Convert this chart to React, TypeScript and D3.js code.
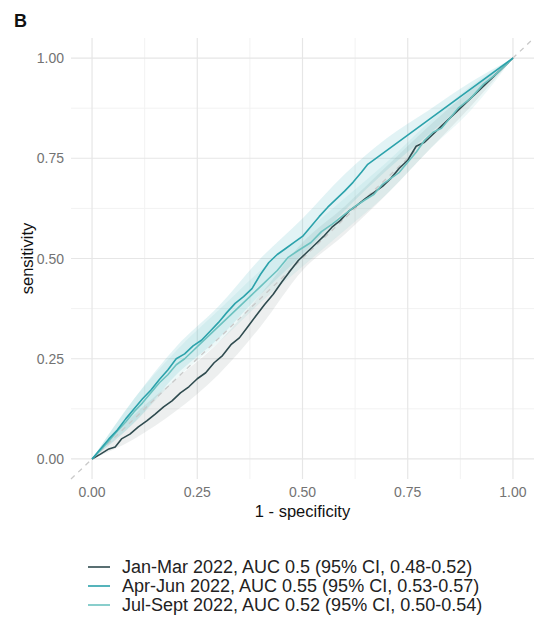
import React from 'react';
import * as d3 from 'd3';

// ROC curves: [1 - specificity, sensitivity]
const janMar: [number, number][] = [
  [0,0],[0.02,0.012],[0.04,0.025],[0.055,0.03],[0.07,0.05],[0.09,0.062],[0.11,0.08],[0.13,0.095],
  [0.15,0.112],[0.17,0.13],[0.19,0.145],[0.21,0.165],[0.23,0.18],[0.25,0.2],[0.27,0.215],[0.29,0.24],
  [0.31,0.258],[0.33,0.285],[0.35,0.302],[0.37,0.33],[0.39,0.358],[0.41,0.385],[0.43,0.41],[0.45,0.44],
  [0.47,0.468],[0.49,0.495],[0.51,0.515],[0.53,0.535],[0.55,0.555],[0.57,0.578],[0.59,0.595],[0.61,0.618],
  [0.63,0.633],[0.65,0.65],[0.67,0.665],[0.69,0.68],[0.71,0.70],[0.73,0.725],[0.75,0.745],[0.77,0.78],
  [0.79,0.79],[0.81,0.81],[0.83,0.83],[0.85,0.85],[0.87,0.87],[0.89,0.89],[0.92,0.92],[0.95,0.95],[1,1],
];
const aprJun: [number, number][] = [
  [0,0],[0.02,0.025],[0.04,0.05],[0.06,0.072],[0.08,0.1],[0.1,0.125],[0.12,0.15],[0.14,0.172],
  [0.16,0.198],[0.18,0.222],[0.2,0.25],[0.22,0.262],[0.24,0.282],[0.26,0.296],[0.28,0.318],[0.3,0.34],
  [0.32,0.365],[0.34,0.388],[0.36,0.405],[0.38,0.425],[0.40,0.46],[0.42,0.49],[0.44,0.51],[0.46,0.525],
  [0.48,0.54],[0.5,0.555],[0.52,0.58],[0.54,0.605],[0.56,0.628],[0.58,0.648],[0.6,0.668],[0.62,0.69],
  [0.64,0.715],[0.655,0.735],[1,1],
];
const julSep: [number, number][] = [
  [0,0],[0.02,0.022],[0.04,0.045],[0.06,0.07],[0.08,0.092],[0.1,0.118],[0.12,0.14],[0.14,0.165],
  [0.16,0.19],[0.18,0.21],[0.2,0.235],[0.22,0.25],[0.24,0.27],[0.26,0.29],[0.28,0.31],[0.3,0.33],
  [0.32,0.35],[0.34,0.37],[0.36,0.39],[0.38,0.41],[0.4,0.43],[0.42,0.45],[0.44,0.47],[0.466,0.503],
  [0.49,0.52],[0.52,0.54],[0.545,0.567],[0.57,0.585],[0.6,0.61],[0.625,0.63],[0.648,0.646],[0.67,0.66],
  [0.69,0.685],[0.71,0.70],[0.73,0.715],[0.75,0.74],[0.77,0.765],[0.79,0.795],[0.81,0.815],[0.83,0.825],
  [0.85,0.85],[0.87,0.875],[0.9,0.9],[0.93,0.935],[0.96,0.96],[1,1],
];

// confidence bands (sensitivity CI) at these x positions
const bandX = [0, 0.1, 0.2, 0.3, 0.4, 0.5, 0.6, 0.7, 0.8, 0.9, 1];
const janLo = [0, 0.05, 0.12, 0.21, 0.33, 0.47, 0.56, 0.66, 0.77, 0.88, 1];
const janHi = [0, 0.11, 0.20, 0.29, 0.41, 0.54, 0.63, 0.73, 0.83, 0.92, 1];
const aprLo = [0, 0.09, 0.21, 0.30, 0.41, 0.51, 0.62, 0.72, 0.81, 0.90, 1];
const aprHi = [0, 0.15, 0.28, 0.38, 0.50, 0.60, 0.71, 0.80, 0.87, 0.94, 1];
const julLo = [0, 0.09, 0.20, 0.29, 0.39, 0.48, 0.57, 0.66, 0.77, 0.87, 1];
const julHi = [0, 0.15, 0.27, 0.37, 0.47, 0.56, 0.65, 0.74, 0.84, 0.93, 1];

const seriesLabels = [
  'Jan-Mar 2022, AUC 0.5 (95% CI, 0.48-0.52)',
  'Apr-Jun 2022, AUC 0.55 (95% CI, 0.53-0.57)',
  'Jul-Sept 2022, AUC 0.52 (95% CI, 0.50-0.54)',
];
const tickVals = [0, 0.25, 0.5, 0.75, 1];
const minorVals = [0.125, 0.375, 0.625, 0.875];

const COL = { jan: '#2f4b4f', apr: '#2ba2ab', jul: '#6cc2c0' };
const FILL = { jan: 'rgba(110,120,120,0.12)', apr: 'rgba(60,175,185,0.15)', jul: 'rgba(110,195,195,0.12)' };
const font = "'Liberation Sans', Arial, sans-serif";

export default function App() {
  const W = 536, H = 634;
  const x = d3.scaleLinear().domain([-0.05, 1.05]).range([71, 534]);
  const y = d3.scaleLinear().domain([-0.05, 1.05]).range([479, 38]);

  const line = d3.line<[number, number]>().x(d => x(d[0])).y(d => y(d[1]));
  const band = (lo: number[], hi: number[]) =>
    d3.area<number>().x(d => x(d)).y0((d, i) => y(lo[i])).y1((d, i) => y(hi[i])).curve(d3.curveMonotoneX)(bandX) || '';

  const series = [
    { key: 'jan', data: janMar, lo: janLo, hi: janHi },
    { key: 'apr', data: aprJun, lo: aprLo, hi: aprHi },
    { key: 'jul', data: julSep, lo: julLo, hi: julHi },
  ] as const;

  return (
    <svg width={W} height={H} style={{ position: 'absolute', left: 0, top: 0, background: '#fff' }} fontFamily={font}>
      <rect width={W} height={H} fill="#fff" />
      <text x={14} y={27} fontSize={18} fontWeight="bold" fill="#111">B</text>

      {/* grid */}
      {minorVals.map(v => (
        <g key={'m' + v}>
          <line x1={x(v)} x2={x(v)} y1={38} y2={479} stroke="#f2f2f2" strokeWidth={1} />
          <line x1={71} x2={534} y1={y(v)} y2={y(v)} stroke="#f2f2f2" strokeWidth={1} />
        </g>
      ))}
      {tickVals.map(v => (
        <g key={'M' + v}>
          <line x1={x(v)} x2={x(v)} y1={38} y2={479} stroke="#e6e6e6" strokeWidth={1.2} />
          <line x1={71} x2={534} y1={y(v)} y2={y(v)} stroke="#e6e6e6" strokeWidth={1.2} />
        </g>
      ))}

      {/* CI bands */}
      {series.map(s => (
        <path key={'b' + s.key} d={band(s.lo, s.hi)} fill={FILL[s.key]} />
      ))}

      {/* reference diagonal */}
      <line x1={x(-0.05)} y1={y(-0.05)} x2={x(1.05)} y2={y(1.05)} stroke="#c9c9c9" strokeWidth={1.3} strokeDasharray="5,5" />

      {/* curves */}
      {[series[0], series[2], series[1]].map(s => (
        <path key={'l' + s.key} d={line(s.data as [number, number][]) || ''} fill="none" stroke={COL[s.key]} strokeWidth={1.6} strokeLinejoin="round" />
      ))}

      {/* axis labels */}
      {tickVals.map(v => (
        <text key={'yt' + v} x={64} y={y(v) + 5} fontSize={14} fill="#737373" textAnchor="end">{v.toFixed(2)}</text>
      ))}
      {tickVals.map(v => (
        <text key={'xt' + v} x={x(v)} y={497} fontSize={14} fill="#737373" textAnchor="middle">{v.toFixed(2)}</text>
      ))}
      <text x={x(0.5)} y={517} fontSize={16.5} fill="#111" textAnchor="middle">1 - specificity</text>
      <text transform={`translate(33,${y(0.5)}) rotate(-90)`} fontSize={16.5} fill="#111" textAnchor="middle">sensitivity</text>

      {/* legend */}
      {series.map((s, i) => (
        <g key={'lg' + s.key} transform={`translate(0,${567 + i * 19})`}>
          <line x1={88} x2={110} y1={0} y2={0} stroke={COL[s.key]} strokeWidth={1.6} />
          <text x={122} y={6.3} fontSize={18} fill="#222">{seriesLabels[i]}</text>
        </g>
      ))}
    </svg>
  );
}
